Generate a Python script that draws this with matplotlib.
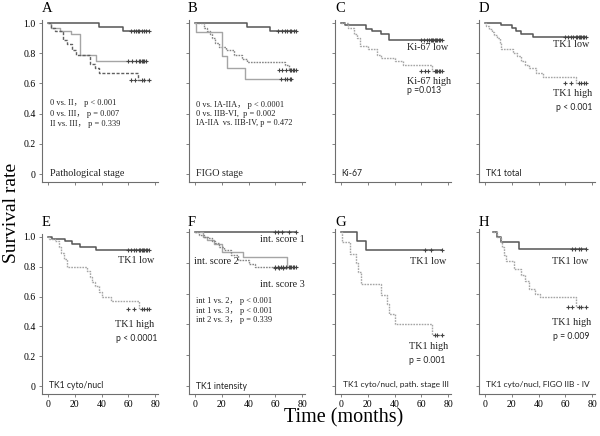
import matplotlib
matplotlib.use("Agg")
import matplotlib.pyplot as plt

# ================================ DATA ================================
# Kaplan-Meier steps: (times in months, survival) + censor times
a_stage0_t = [0, 38, 56]
a_stage0_s = [1.0, 0.975, 0.95]
a_stage0_c = [62, 64, 66, 67, 68, 70, 72, 73, 75]
a_stage2_t = [0, 2, 9, 17, 24, 36]
a_stage2_s = [1.0, 0.97, 0.95, 0.93, 0.79, 0.75]
a_stage2_c = [60, 63, 66, 68, 69, 70, 71, 72, 73]
a_stage3_t = [0, 2, 5, 11, 14, 18, 21, 31, 35, 38, 67]
a_stage3_s = [1.0, 0.97, 0.95, 0.89, 0.86, 0.82, 0.79, 0.73, 0.70, 0.67, 0.625]
a_stage3_c = [62, 65, 70, 72, 75]

b_stage0_t = [0, 39, 56]
b_stage0_s = [1.0, 0.975, 0.95]
b_stage0_c = [62, 65, 67, 69, 71, 72, 74, 75]
b_early_t = [0, 7, 9, 11, 13, 15, 18, 23, 29, 35, 39, 67, 70]
b_early_s = [1.0, 0.97, 0.95, 0.93, 0.90, 0.87, 0.84, 0.82, 0.79, 0.76, 0.74, 0.72, 0.69]
b_early_c = [63, 65, 68, 71, 72, 73, 74, 75]
b_late_t = [0, 1, 20, 24, 37]
b_late_s = [1.0, 0.94, 0.78, 0.70, 0.63]
b_late_c = [64, 67, 69, 71, 72]

c_low_t = [0, 3, 19, 23, 30, 36]
c_low_s = [1.0, 0.985, 0.96, 0.95, 0.93, 0.89]
c_low_c = [60, 62, 64, 66, 67, 68, 69, 70, 71, 72, 73, 74, 75]
c_high_t = [0, 5, 10, 12, 14, 20, 27, 30, 40, 46, 68]
c_high_s = [1.0, 0.965, 0.93, 0.90, 0.85, 0.83, 0.79, 0.77, 0.75, 0.72, 0.685]
c_high_c = [60, 63, 65, 70, 71, 72, 73, 74, 75]

d_low_t = [0, 12, 20, 23, 27, 36]
d_low_s = [1.0, 0.985, 0.97, 0.95, 0.93, 0.91]
d_low_c = [60, 62, 64, 66, 68, 69, 70, 71, 72, 73, 74, 75]
d_high_t = [0, 1, 3, 5, 7, 9, 11, 12, 21, 24, 27, 30, 33, 38, 43, 68]
d_high_s = [1.0, 0.98, 0.96, 0.94, 0.92, 0.90, 0.87, 0.83, 0.80, 0.78, 0.75, 0.72, 0.70, 0.67, 0.645, 0.60]
d_high_c = [60, 64, 70, 72, 74, 75]

e_low_t = [0, 3, 13, 18, 24, 36]
e_low_s = [1.0, 0.985, 0.97, 0.95, 0.93, 0.91]
e_low_c = [60, 62, 64, 66, 68, 69, 70, 71, 72, 73, 74, 75]
e_high_t = [0, 1, 5, 8, 10, 12, 14, 29, 31, 33, 35, 38, 40, 47, 68]
e_high_s = [1.0, 0.985, 0.97, 0.93, 0.89, 0.85, 0.80, 0.77, 0.73, 0.70, 0.67, 0.63, 0.60, 0.57, 0.515]
e_high_c = [60, 64, 70, 72, 74, 75]

f_int1_t = [0]
f_int1_s = [1.0]
f_int1_c = [60, 62, 65, 70, 75]
f_int2_t = [0, 6, 9, 14, 20, 36, 69]
f_int2_s = [1.0, 0.97, 0.95, 0.92, 0.87, 0.84, 0.765]
f_int2_c = [60, 63, 66]
f_int3_t = [0, 3, 7, 10, 13, 15, 18, 22, 27, 32, 40, 45]
f_int3_s = [1.0, 0.98, 0.97, 0.96, 0.94, 0.93, 0.90, 0.88, 0.85, 0.82, 0.79, 0.77]
f_int3_c = [60, 62, 64, 66, 68, 70, 71, 72, 73, 74, 75]

g_low_t = [0, 12, 19]
g_low_s = [1.0, 0.94, 0.886]
g_low_c = [63, 67, 75]
g_high_t = [0, 1, 7, 11, 13, 15, 30, 34, 36, 40, 68]
g_high_s = [1.0, 0.935, 0.86, 0.80, 0.74, 0.66, 0.59, 0.53, 0.47, 0.40, 0.33]
g_high_c = [70, 72, 75]

h_low_t = [6, 9, 12, 25]
h_low_s = [1.0, 0.97, 0.935, 0.89]
h_low_c = [65, 67, 70, 72, 75]
h_high_t = [6, 9, 12, 13, 14, 16, 22, 27, 30, 33, 37, 41, 68]
h_high_s = [1.0, 0.97, 0.935, 0.90, 0.85, 0.81, 0.76, 0.72, 0.68, 0.63, 0.60, 0.575, 0.515]
h_high_c = [62, 65, 70, 72, 75]

x_ticks = [0, 20, 40, 60, 80]
y_ticks = [0, 0.2, 0.4, 0.6, 0.8, 1.0]
y_tick_labels = ["0", "0.2", "0.4", "0.6", "0.8", "1.0"]

# ================================ STYLE ================================
SERIF = ["Liberation Serif", "Noto Sans CJK SC"]
SANS = ["Lato", "DejaVu Sans"]
DARK = "#555555"
LIGHT = "#a5a5a5"
DOT = "#858585"
AXIS = "#6e6e6e"

LABEL_SIZE = 7.3   # group labels (TK1 low ...)
STAT_SIZE = 6.0    # pairwise p-values
SANS_SIZE = 6.2

W, H = 600, 436
fig = plt.figure(figsize=(6, 4.36), dpi=100)


def add_panel(x_zero, y_zero, y_one):
    """Create axes from pixel positions of x=0, y=0 and y=1"""
    px_month = 1.34
    px_unit = y_zero - y_one
    left = x_zero - 4.5 * px_month
    width = 86.5 * px_month
    bottom = y_zero + 0.053 * px_unit
    top = y_zero - 1.02 * px_unit
    ax = fig.add_axes([left / W, 1 - bottom / H, width / W, (bottom - top) / H])
    ax.set_xlim(-4.5, 82)
    ax.set_ylim(-0.053, 1.02)
    for s in ["top", "right"]:
        ax.spines[s].set_visible(False)
    for s in ["left", "bottom"]:
        ax.spines[s].set_color(AXIS)
        ax.spines[s].set_linewidth(0.8)
    ax.tick_params(length=2.5, width=0.6, color=AXIS, pad=2)
    ax.set_xticks(x_ticks)
    ax.set_yticks(y_ticks)
    ax.set_xticklabels([])
    ax.set_yticklabels([])
    return ax


def km(ax, t, s, c, color, ls="-", lw=1.0):
    end = max(c) if c else t[-1]
    tt = list(t) + [end]
    ss = list(s) + [s[-1]]
    ax.step(tt, ss, where="post", color=color, ls=ls, lw=lw)
    ax.plot(c, [s[-1]] * len(c), ls="none", marker="+", ms=3.5, mew=0.8, color="#444444")


def txt(ax, x, y, text, fam=SERIF, size=LABEL_SIZE, ha="left"):
    ax.text(x, y, text, family=fam, fontsize=size, ha=ha, va="center", color="#222222")


def letter(x_px, y_px, text):
    fig.text(x_px / W, 1 - y_px / H, text, family=SERIF, fontsize=10.5, ha="left", va="center")


dotted = (0, (1.2, 0.8))
dashed = (0, (2.2, 1.2))

# --- top row ---
axA = add_panel(48, 174, 23)
km(axA, a_stage0_t, a_stage0_s, a_stage0_c, DARK, lw=1.1)
km(axA, a_stage2_t, a_stage2_s, a_stage2_c, LIGHT)
km(axA, a_stage3_t, a_stage3_s, a_stage3_c, "#606060", ls=dashed)
txt(axA, 1.5, 0.468, "0 vs. II， p < 0.001", size=STAT_SIZE)
txt(axA, 1.5, 0.40, "0 vs. III， p = 0.007", size=STAT_SIZE)
txt(axA, 1.5, 0.332, "II vs. III， p = 0.339", size=STAT_SIZE)
txt(axA, 1.5, 0.0, "Pathological stage")
axA.set_yticklabels(y_tick_labels, family=SERIF, fontsize=7)
letter(42, 8, "A")

axB = add_panel(195, 174, 23)
km(axB, b_stage0_t, b_stage0_s, b_stage0_c, DARK, lw=1.1)
km(axB, b_early_t, b_early_s, b_early_c, DOT, ls=dotted)
km(axB, b_late_t, b_late_s, b_late_c, LIGHT)
txt(axB, 1, 0.455, "0 vs. IA-IIA， p < 0.0001", size=STAT_SIZE)
txt(axB, 1, 0.40, "0 vs. IIB-VI,  p = 0.002", size=STAT_SIZE)
txt(axB, 1, 0.34, "IA-IIA  vs. IIB-IV, p = 0.472", size=STAT_SIZE)
txt(axB, 1, 0.0, "FIGO stage")
letter(188, 8, "B")

axC = add_panel(341, 174, 23)
km(axC, c_low_t, c_low_s, c_low_c, DARK, lw=1.1)
km(axC, c_high_t, c_high_s, c_high_c, LIGHT, ls=dotted)
txt(axC, 49, 0.84, "Ki-67 low")
txt(axC, 49, 0.61, "Ki-67 high")
txt(axC, 49, 0.55, "p =0.013", fam=SANS, size=SANS_SIZE)
txt(axC, 0.5, 0.0, "Ki-67", fam=SANS, size=SANS_SIZE)
letter(335, 8, "C")

axD = add_panel(485, 174, 23)
km(axD, d_low_t, d_low_s, d_low_c, DARK, lw=1.1)
km(axD, d_high_t, d_high_s, d_high_c, LIGHT, ls=dotted)
txt(axD, 51, 0.855, "TK1 low")
txt(axD, 51, 0.53, "TK1 high")
txt(axD, 53, 0.44, "p < 0.001", fam=SANS, size=SANS_SIZE)
txt(axD, 0.7, 0.0, "TK1 total", fam=SANS, size=SANS_SIZE)
letter(479, 8, "D")

# --- bottom row ---
axE = add_panel(48, 386, 237)
km(axE, e_low_t, e_low_s, e_low_c, DARK, lw=1.1)
km(axE, e_high_t, e_high_s, e_high_c, LIGHT, ls=dotted)
txt(axE, 52, 0.845, "TK1 low")
txt(axE, 50, 0.41, "TK1 high")
txt(axE, 51, 0.32, "p < 0.0001", fam=SANS, size=SANS_SIZE)
txt(axE, 1, 0.0, "TK1 cyto/nucl", fam=SANS, size=SANS_SIZE)
axE.set_yticklabels(y_tick_labels, family=SERIF, fontsize=7)
letter(42, 222, "E")

axF = add_panel(195, 386, 232)
km(axF, f_int1_t, f_int1_s, f_int1_c, DARK, lw=1.1)
km(axF, f_int2_t, f_int2_s, f_int2_c, LIGHT)
km(axF, f_int3_t, f_int3_s, f_int3_c, DOT, ls=dotted)
txt(axF, 48.5, 0.95, "int. score 1")
txt(axF, -0.7, 0.81, "int. score 2")
txt(axF, 48.5, 0.66, "int. score 3")
txt(axF, 1, 0.55, "int 1 vs. 2， p < 0.001", size=STAT_SIZE)
txt(axF, 1, 0.49, "int 1 vs. 3， p < 0.001", size=STAT_SIZE)
txt(axF, 1, 0.43, "int 2 vs. 3， p = 0.339", size=STAT_SIZE)
txt(axF, 1, 0.0, "TK1 intensity", fam=SANS, size=SANS_SIZE)
letter(188, 222, "F")

axG = add_panel(341, 386, 232)
km(axG, g_low_t, g_low_s, g_low_c, DARK, lw=1.1)
km(axG, g_high_t, g_high_s, g_high_c, LIGHT, ls=dotted)
txt(axG, 51.7, 0.81, "TK1 low")
txt(axG, 51, 0.255, "TK1 high")
txt(axG, 51, 0.165, "p = 0.001", fam=SANS, size=SANS_SIZE)
txt(axG, 1.5, 0.01, "TK1 cyto/nucl, path. stage III", fam=SANS, size=6.0)
letter(335, 222, "G")

axH = add_panel(485, 386, 232)
km(axH, h_low_t, h_low_s, h_low_c, DARK, lw=1.1)
km(axH, h_high_t, h_high_s, h_high_c, LIGHT, ls=dotted)
txt(axH, 50, 0.81, "TK1 low")
txt(axH, 50, 0.41, "TK1 high")
txt(axH, 51, 0.32, "p = 0.009", fam=SANS, size=SANS_SIZE)
txt(axH, 0.5, 0.01, "TK1 cyto/nucl, FIGO IIB - IV", fam=SANS, size=6.0)
letter(479, 222, "H")

for ax in [axE, axF, axG, axH]:
    ax.set_xticklabels([str(v) for v in x_ticks], family=SERIF, fontsize=7)

fig.text(12 / W, 1 - 213 / H, "Survival rate", family=SERIF, fontsize=14,
         rotation=90, ha="center", va="center")
fig.text(344 / W, 1 - 418 / H, "Time (months)", family=SERIF, fontsize=14.5,
         ha="center", va="center")

fig.savefig("out.png", dpi=100)
